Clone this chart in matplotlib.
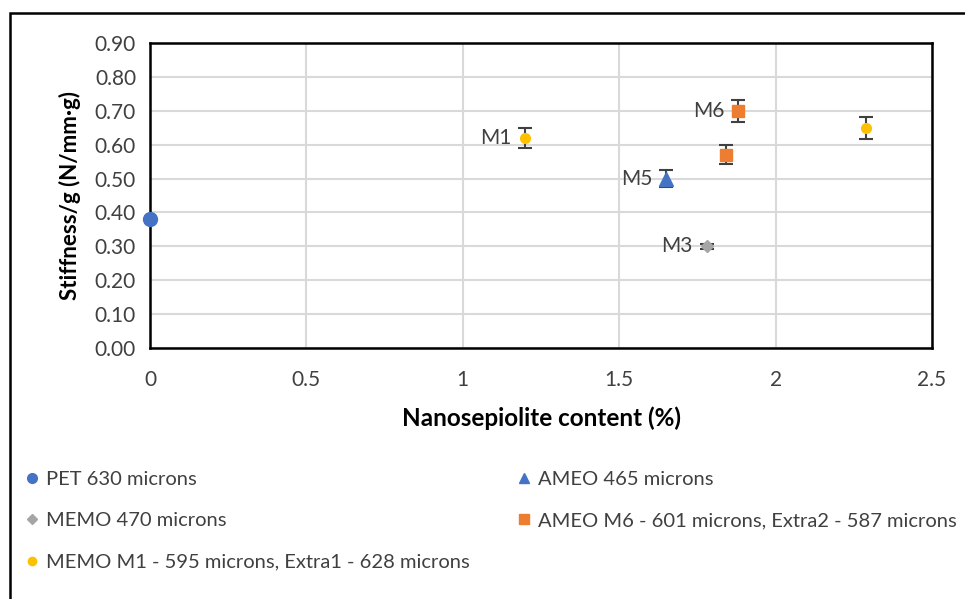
import matplotlib
matplotlib.use('Agg')
import matplotlib.pyplot as plt
from matplotlib.patches import Rectangle
from matplotlib.lines import Line2D

plt.rcParams['font.family'] = ['Lato', 'DejaVu Sans']

# data
pet_x = [0.0]
pet_y = [0.38]

ameo465_x = [1.65]
ameo465_y = [0.50]
ameo465_err = [0.025]

memo470_x = [1.78]
memo470_y = [0.30]
memo470_err = [0.008]

ameo_m6_x = [1.88, 1.84]
ameo_m6_y = [0.70, 0.57]
ameo_m6_err = [0.033, 0.028]

memo_m1_x = [1.20, 2.29]
memo_m1_y = [0.62, 0.65]
memo_m1_err = [0.030, 0.033]

point_labels = [('M1', 1.20, 0.62), ('M5', 1.65, 0.50), ('M3', 1.78, 0.30), ('M6', 1.88, 0.70)]

fig = plt.figure(figsize=(9.65, 5.99), dpi=100)
ax = fig.add_axes([150/965, 1-348/599, (932-150)/965, (348-43)/599])

ecol = '#404040'
ekw = dict(ecolor=ecol, elinewidth=1.5, capsize=5, capthick=1.5, linestyle='none')

ax.plot(pet_x, pet_y, 'o', color='#4472C4', ms=10, clip_on=False, zorder=5)
ax.errorbar(ameo465_x, ameo465_y, yerr=ameo465_err, fmt='^', color='#4472C4', ms=10, zorder=5, **ekw)
ax.errorbar(memo470_x, memo470_y, yerr=memo470_err, fmt='D', color='#A5A5A5', ms=6.5, zorder=5, **ekw)
ax.errorbar(ameo_m6_x, ameo_m6_y, yerr=ameo_m6_err, fmt='s', color='#ED7D31', ms=8.5, zorder=5, **ekw)
ax.errorbar(memo_m1_x, memo_m1_y, yerr=memo_m1_err, fmt='o', color='#FFC000', ms=7, zorder=5, **ekw)

for txt, x, y in point_labels:
    ax.annotate(txt, (x, y), xytext=(-10, 0), textcoords='offset points',
                ha='right', va='center', fontsize=15, color='#404040')

ax.set_xlim(0, 2.5)
ax.set_ylim(0, 0.9)
ax.set_xticks([0, 0.5, 1, 1.5, 2, 2.5])
ax.set_xticklabels(['0', '0.5', '1', '1.5', '2', '2.5'])
ax.set_yticks([i/10 for i in range(10)])
ax.set_yticklabels(['%.2f' % (i/10) for i in range(10)])
ax.tick_params(length=0, labelsize=15, colors='#404040', pad=10)
ax.tick_params(axis='x', pad=16)
ax.grid(True, color='#D9D9D9', linewidth=1.5)
ax.set_axisbelow(True)
for s in ax.spines.values():
    s.set_color('black')
    s.set_linewidth(1.8)

ax.set_xlabel('Nanosepiolite content (%)', fontsize=17.5, fontweight='bold', labelpad=12)
ax.set_ylabel('Stiffness/g (N/mm·g)', fontsize=16, fontweight='bold', labelpad=10)

# outer chart frame
fig.patches.append(Rectangle((10/965, -0.1), 1.2, 1-13/599+0.1, transform=fig.transFigure,
                             fill=False, edgecolor='black', linewidth=1.8))

left_handles = [
    Line2D([], [], marker='o', ls='none', color='#4472C4', ms=7),
    Line2D([], [], marker='D', ls='none', color='#A5A5A5', ms=5.5),
    Line2D([], [], marker='o', ls='none', color='#FFC000', ms=6),
]
left_labels = ['PET 630 microns', 'MEMO 470 microns', 'MEMO M1 - 595 microns, Extra1 - 628 microns']
right_handles = [
    Line2D([], [], marker='^', ls='none', color='#4472C4', ms=7),
    Line2D([], [], marker='s', ls='none', color='#ED7D31', ms=7),
]
right_labels = ['AMEO 465 microns', 'AMEO M6 - 601 microns, Extra2 - 587 microns']

leg_kw = dict(loc='upper left', frameon=False, fontsize=14.5, handlelength=0.6, handletextpad=0.4,
              labelspacing=1.2, labelcolor='#404040', borderpad=0)
fig.legend(left_handles, left_labels, bbox_to_anchor=(16/965, 1-461/599), **leg_kw)
fig.legend(right_handles, right_labels, bbox_to_anchor=(508/965, 1-461/599), **leg_kw)

fig.savefig('out.png', dpi=100)
